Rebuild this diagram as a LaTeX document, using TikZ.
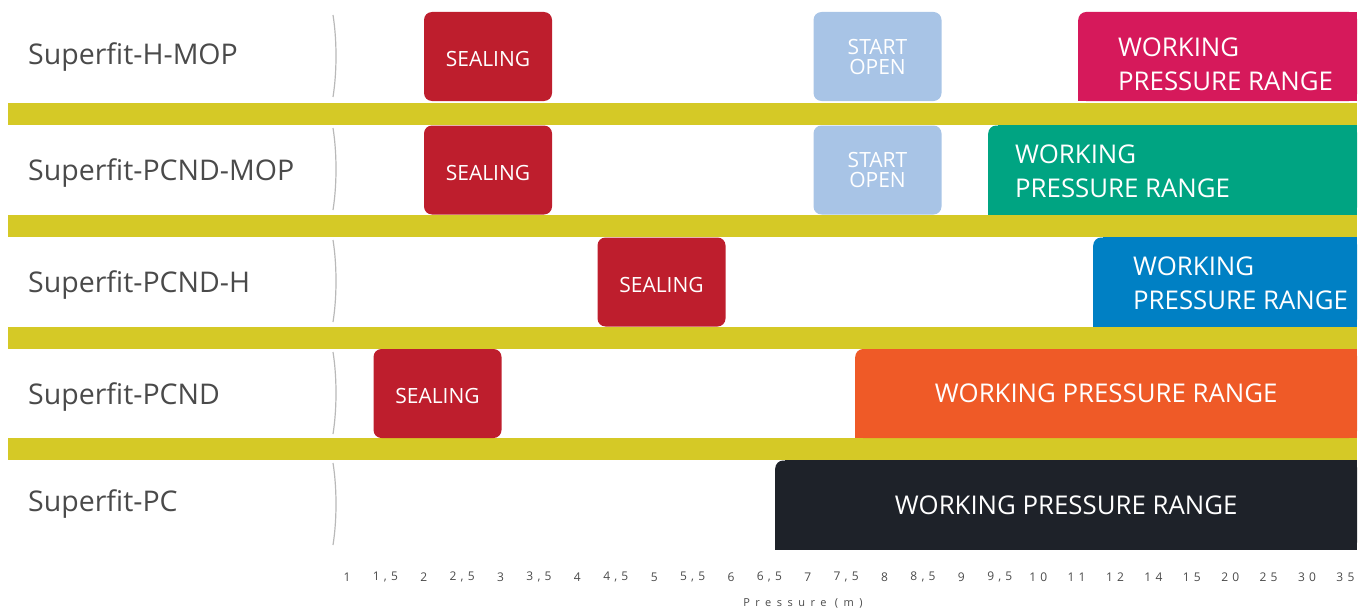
\documentclass[tikz,border=0pt]{standalone}
\usepackage{fontspec}
\setmainfont{Open Sans}
\usetikzlibrary{positioning, backgrounds}
\definecolor{barYellow}{HTML}{D5C926}
\definecolor{labelGray}{HTML}{4A4A4A}
\definecolor{sealRed}{HTML}{BE1E2D}
\definecolor{openBlue}{HTML}{A8C4E6}
\definecolor{wprMagenta}{HTML}{D6195B}
\definecolor{wprGreen}{HTML}{00A482}
\definecolor{wprBlue}{HTML}{0080C4}
\definecolor{wprOrange}{HTML}{EF5A27}
\definecolor{wprDark}{HTML}{1E2229}

\begin{document}
\begin{tikzpicture}[
    x=1pt, y=-1pt,
    rowlabel/.style={anchor=base west, inner sep=0pt, text=labelGray, font=\fontsize{28.5}{30}\selectfont},
    smallbox/.style={rounded corners=8pt, minimum width=128pt, minimum height=89pt, inner sep=0pt, text=white},
    sealing/.style={smallbox, fill=sealRed, text height=20pt, text depth=0pt, font=\fontsize{21}{22}\selectfont},
    startopen/.style={smallbox, fill=openBlue, align=center, font=\fontsize{21}{20}\selectfont},
    working/.style={rounded corners=8pt, minimum height=89pt, inner sep=0pt, anchor=west,
                    text=white, font=\fontsize{25.8}{27}\selectfont},
    wtext/.style={anchor=west, inner sep=0pt, align=left, text=white, font=\fontsize{25.8}{34}\selectfont},
    ticklabel/.style={inner sep=0pt, text=labelGray, font=\fontsize{12}{12}\selectfont\addfontfeature{LetterSpace=35}},
    divider/.style={gray!55, line width=1.2pt}
]
\useasboundingbox (0,0) rectangle (1368,610);

% yellow separators
\foreach \t in {103,215,327,438}
  \fill[barYellow] (8,\t) rectangle (1357,\t+22);

% row names
\node[rowlabel] (n1) at (28,65)  {Superfit-H-MOP};
\node[rowlabel] (n2) at (28,180) {Superfit-PCND-MOP};
\node[rowlabel] (n3) at (28,292) {Superfit-PCND-H};
\node[rowlabel] (n4) at (28,404) {Superfit-PCND};
\node[rowlabel] (n5) at (28,511) {Superfit-PC};

% thin dividers after the names
\foreach \t/\b in {15/97, 128/210, 240/322, 352/434, 463/545}
  \draw[divider] (333,\t) .. controls (337,\t+25) and (337,\b-25) .. (333,\b);

% sealing
\node[sealing] (s1) at (488,56.5)    {SEALING};
\node[sealing] (s2) at (488,170)     {SEALING};
\node[sealing] (s3) at (661.5,282)   {SEALING};
\node[sealing] (s4) at (437.5,393.5) {SEALING};

% start open
\node[startopen] (o1) at (877.5,56.5) {START\\OPEN};
\node[startopen] (o2) at (877.5,170)  {START\\OPEN};

% working pressure range
\node[working, fill=wprMagenta, minimum width=279pt] (w1) at (1078,56.5) {};
\node[working, fill=wprGreen,   minimum width=369pt] (w2) at (988,170)   {};
\node[working, fill=wprBlue,    minimum width=264pt] (w3) at (1093,282)  {};
\node[working, fill=wprOrange,  minimum width=502pt] (w4) at (855,393.5) {WORKING PRESSURE RANGE};
\node[working, fill=wprDark,    minimum width=582pt] (w5) at (775,505)   {WORKING PRESSURE RANGE};

\node[wtext] (t1) at ([xshift=40pt,yshift=-8pt]w1.west) {WORKING\\PRESSURE RANGE};
\node[wtext] (t2) at ([xshift=27pt,yshift=-1.5pt]w2.west) {WORKING\\PRESSURE RANGE};
\node[wtext] (t3) at ([xshift=40pt,yshift=-1pt]w3.west) {WORKING\\PRESSURE RANGE};

% only the top left corner is rounded
\begin{scope}[on background layer]
  \foreach \w/\c in {w1/wprMagenta, w2/wprGreen, w3/wprBlue, w4/wprOrange, w5/wprDark} {
    \fill[\c] (\w.south west) rectangle ([yshift=-10pt]\w.north east);
    \fill[\c] ([xshift=10pt]\w.south west) rectangle (\w.north east);
  }
\end{scope}

% pressure scale
\foreach \v [count=\i from 0] in {1,{1,5},2,{2,5},3,{3,5},4,{4,5},5,{5,5},6,{6,5},7,{7,5},
                                  8,{8,5},9,{9,5},10,11,12,14,15,20,25,30,35}
  \node[ticklabel] (tk\i) at (347+38.4*\i,577) {\v};
\node[ticklabel, font=\fontsize{11}{11}\selectfont\addfontfeature{LetterSpace=50}] (axis) at (803,603) {Pressure (m)};
\end{tikzpicture}
\end{document}
